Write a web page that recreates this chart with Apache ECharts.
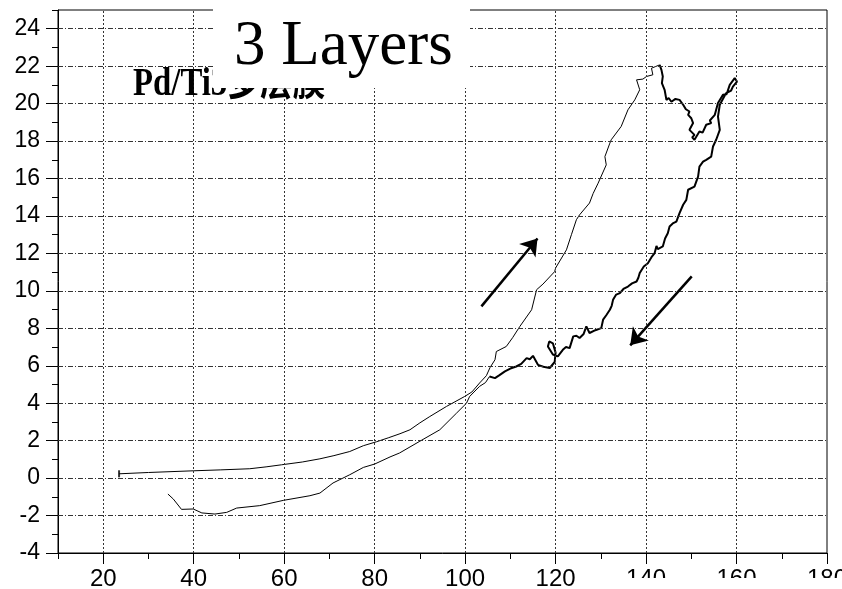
<!DOCTYPE html>
<html><head><meta charset="utf-8">
<script src="https://cdn.jsdelivr.net/npm/echarts@6/dist/echarts.min.js"></script>
<style>html,body{margin:0;padding:0;background:#fff}#c{width:842px;height:589px}</style>
</head><body><div id="c"></div>
<script>
// Tick / grid values
const xMajorTicks = [20, 40, 60, 80, 100, 120, 140, 160, 180];
const yMajorTicks = [-4, -2, 0, 2, 4, 6, 8, 10, 12, 14, 16, 18, 20, 22, 24];
const gridXs = [20, 40, 60, 80, 100, 120, 140, 160];
const gridYs = [-2, 0, 2, 4, 6, 8, 10, 12, 14, 16, 18, 20, 22, 24];

// Increasing sweep (thin line)
const upSweep = [
  [23.5,0.23],[30,0.3],[39.9,0.39],[46,0.44],[52.4,0.5],[56,0.6],[59.4,0.71],[64,0.86],
  [67.9,1.03],[71,1.2],[74.5,1.42],[77.5,1.73],[80.4,1.94],[83,2.15],[85.6,2.37],[87.8,2.58],
  [90,2.95],[92.2,3.29],[95.9,3.83],[99.9,4.36],[101.5,4.6],[103.2,5.08],[104.7,5.47],[105.5,5.9],
  [106.6,6.32],[106.9,6.76],[109.1,7.03],[110.5,7.5],[112.1,8.1],[114.7,8.99],[115.8,10.06],
  [117.2,10.36],[119.8,11.03],[120.0,11.22],[122.4,12.19],[123.5,13.0],[124.6,13.8],[125.3,14.06],
  [127.5,14.69],[128.3,15.2],[129.4,15.75],[131.2,16.73],[130.9,17.17],[132.0,17.89],[132.3,18.07],
  [134.5,18.78],[136.0,19.67],[137.5,20.2],[138.6,20.74],[137.9,21.27],[139.3,21.31],[140.1,21.45],
  [141.5,21.54],[141.2,21.89],[143.0,22.07]
];
// Decreasing sweep, noisy part (thick line)
const downThick = [
  [143.0,22.07],[143.4,21.8],[143.7,21.45],[143.5,21.1],[144.1,20.74],[144.5,20.2],[145.0,20.3],
  [145.6,20.1],[146.5,20.25],[147.4,20.2],[148.2,19.94],[148.8,19.7],[149.6,19.58],[149.3,19.4],
  [150.0,19.22],[150.4,18.96],[149.6,18.6],[150.7,18.33],[150.2,18.2],[150.7,18.07],[151.8,18.51],
  [152.5,18.45],[153.3,18.87],[154.4,18.96],[154.1,19.1],[155.2,19.4],[155.9,20.03],[157.0,20.47],
  [157.8,20.5],[158.5,21.0],[159.6,21.36],[160.1,21.18],[159.2,20.91],[158.8,20.7],[157.7,20.56],
  [156.3,19.94],[155.9,19.31],[156.3,18.6],[155.5,18.07],[154.8,17.71],[154.4,17.17],[153.3,17.0],
  [152.6,16.9],[151.8,16.64],[151.5,16.1],[150.7,15.57],[149.3,15.4],[148.9,14.86],[148.2,14.6],
  [147.4,14.15],[146.7,13.7],[145.9,13.6],[145.2,13.44],[144.8,13.08],[144.2,12.8],[143.7,12.37],
  [142.6,12.23],[142.3,12.4],[141.9,12.02],[141.2,11.8],[140.4,11.48],[139.5,11.3],[138.6,10.95],
  [138.3,10.7],[137.9,10.5],[136.9,10.4],[136.0,10.23],[135.0,10.1],[134.2,9.88],[133.4,9.8],
  [132.7,9.52],[132.4,9.2],[132.0,8.99],[131.2,8.7],[130.5,8.46],[130.1,8.01],[128.8,7.9],
  [127.5,7.75],[126.8,8.1],[126.2,7.7],[125.3,7.48],[124.6,7.6],[123.9,7.57],[123.1,6.94],
  [122.3,7.0],[121.6,6.85],[120.5,6.5],[119.4,6.6],[118.3,7.03],[118.6,7.3],[119.4,7.2],
  [120.0,6.7],[119.8,6.2],[118.7,5.88],[117.3,5.95],[116.1,6.05],[115.0,6.53],[114.3,6.35],
  [113.6,6.41],[112.4,6.1],[111.3,5.96],[110.0,5.85],[108.8,5.7],[107.6,5.5],[106.6,5.34],[105.4,5.43]
];
// Decreasing sweep, lower part (thin line)
const downThin = [
  [105.4,5.43],[104.5,5.1],[103.2,4.9],[101.0,4.36],[100.3,4.0],[98.1,3.47],[94.4,2.58],[90,1.97],
  [85.5,1.34],[83.4,1.13],[80.0,0.75],[77.5,0.57],[74.5,0.18],[70.8,-0.26],[67.9,-0.8],[65.7,-0.94],
  [59.8,-1.19],[54.6,-1.47],[49.5,-1.6],[47.3,-1.83],[44.7,-1.92],[41.8,-1.86],[39.9,-1.65],
  [37.3,-1.67],[35.5,-1.12],[34.3,-0.85]
];
const startMark = [[23.5,0.23]];
const arrowUp = [[103.6,9.17],[116.0,12.8]];
const arrowDown = [[150.1,10.77],[136.5,7.09]];

const chart = echarts.init(document.getElementById('c'), null, {renderer:'canvas'});
const black = '#000';
function axisLine(show) { return {show:show, onZero:false, lineStyle:{color:black, width:1}}; }
chart.setOption({
  animation:false,
  backgroundColor:'#fff',
  grid:{left:58, right:15, top:10, bottom:36, show:true, borderColor:black, borderWidth:1,
    backgroundColor:'transparent', containLabel:false, outerBoundsMode:'none'},
  xAxis:[
    {type:'value', min:10, max:180, interval:10, position:'bottom', splitLine:{show:false},
      axisLine:axisLine(true),
      axisTick:{show:true, inside:false, length:6, lineStyle:{color:black}},
      axisLabel:{formatter:v => (v % 20 === 0 ? String(v) : ''), fontSize:24, color:black,
        fontFamily:'"Liberation Sans", Arial, sans-serif', margin:14}},
    {type:'value', min:10, max:180, interval:10, position:'bottom', splitLine:{show:false},
      axisLine:axisLine(false),
      axisTick:{show:true, inside:false, length:11, customValues:xMajorTicks, lineStyle:{color:black}},
      axisLabel:{show:false}}
  ],
  yAxis:[
    {type:'value', min:-4, max:25, interval:1, position:'left', splitLine:{show:false},
      axisLine:axisLine(true),
      axisTick:{show:true, inside:false, length:6, lineStyle:{color:black}},
      axisLabel:{formatter:v => (v % 2 === 0 && v < 25 ? String(v) : ''), fontSize:23, color:black,
        fontFamily:'"Liberation Sans", Arial, sans-serif', margin:18}},
    {type:'value', min:-4, max:25, interval:1, position:'left', splitLine:{show:false},
      axisLine:axisLine(false),
      axisTick:{show:true, inside:false, length:12, customValues:yMajorTicks, lineStyle:{color:black}},
      axisLabel:{show:false}}
  ],
  series:[
    {type:'line', name:'grid', data:[], z:1, silent:true,
      markLine:{silent:true, symbol:['none','none'], label:{show:false}, animation:false,
        emphasis:{disabled:true},
        data:[
          ...gridXs.map(v => ({xAxis:v, lineStyle:{color:'#333', width:1, type:[2,2]}})),
          ...gridYs.map(v => ({yAxis:v, lineStyle:{color:'#333', width:1, type:[5,2,1,2]}}))
        ]}},
    {type:'line', name:'up', data:upSweep, showSymbol:false, symbol:'none', z:3,
      lineStyle:{color:black, width:1}},
    {type:'line', name:'downThick', data:downThick, showSymbol:false, symbol:'none', z:3,
      lineStyle:{color:black, width:2}},
    {type:'line', name:'downThin', data:downThin, showSymbol:false, symbol:'none', z:3,
      lineStyle:{color:black, width:1}},
    {type:'scatter', name:'start', data:startMark, symbol:'rect', symbolSize:[2,7], z:4,
      itemStyle:{color:black}},
    {type:'line', name:'arrows', data:[], z:4, silent:true,
      markLine:{silent:true, symbol:['none','arrow'], symbolSize:16, label:{show:false}, animation:false,
        emphasis:{disabled:true},
        lineStyle:{color:black, width:2.5, type:'solid'},
        data:[
          [{coord:arrowUp[0]},{coord:arrowUp[1]}],
          [{coord:arrowDown[0]},{coord:arrowDown[1]}]
        ]}}
  ],
  graphic:[
    {type:'text', x:133, y:65, scaleX:0.82, z:100,
      style:{text:'Pd/Ti3多层膜', fontSize:40, fontWeight:'bold',
        fontFamily:'"Liberation Serif", "Noto Sans CJK SC", serif', fill:black, verticalAlign:'top'}},
    {type:'rect', z:101, shape:{x:213, y:0, width:257, height:88}, style:{fill:'#fff'}},
    {type:'text', x:234, y:16, z:102,
      style:{text:'3 Layers', fontSize:63, fontFamily:'"Liberation Serif", serif', fill:black, verticalAlign:'top'}},
    {type:'rect', z:101, shape:{x:600, y:578, width:242, height:11}, style:{fill:'#fff'}}
  ]
});
</script></body></html>
